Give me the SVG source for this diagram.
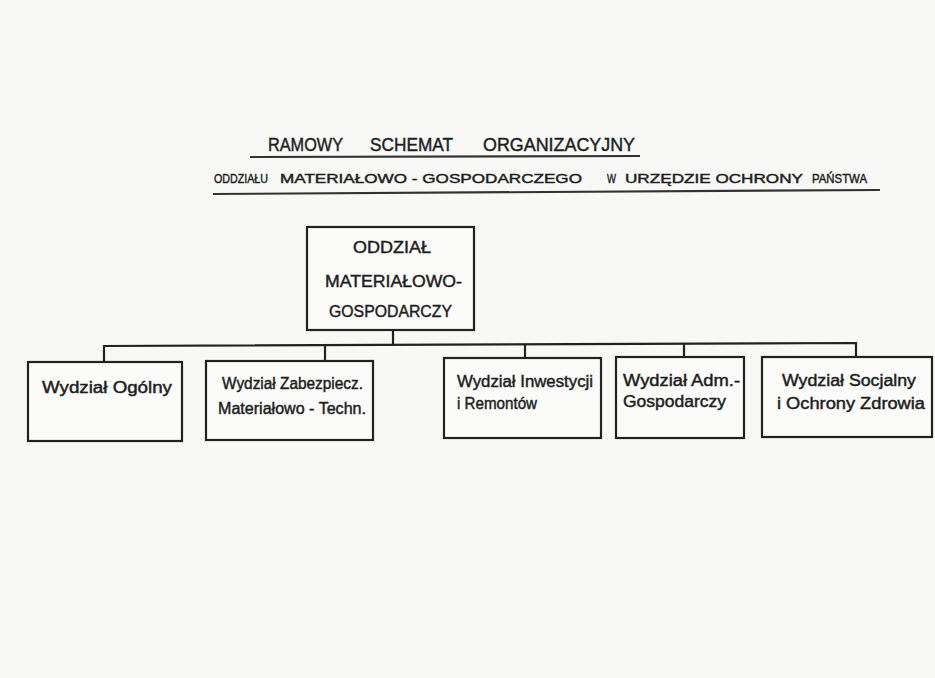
<svg xmlns="http://www.w3.org/2000/svg" width="935" height="678" viewBox="0 0 935 678">
<style>
.bg{fill:#f8f8f6}
.box{fill:#fbfbfa;stroke:#222;stroke-width:2.2}
.ln{fill:none;stroke:#222;stroke-width:2.2}
.ul{fill:none;stroke:#333;stroke-width:2.2}
text{font-family:"Liberation Sans","DejaVu Sans",sans-serif;fill:#1e1e1e;stroke:#1e1e1e;stroke-width:0.45}
.t{font-size:19px}
.s{font-size:13px}
.h{font-size:17px}
.b{font-size:16px}
</style>
<rect class="bg" x="0" y="0" width="935" height="678"/>

<g id="title">
<text class="t" x="268" y="151" textLength="75" lengthAdjust="spacingAndGlyphs">RAMOWY</text>
<text class="t" x="370" y="151" textLength="83" lengthAdjust="spacingAndGlyphs">SCHEMAT</text>
<text class="t" x="483" y="151" textLength="152" lengthAdjust="spacingAndGlyphs">ORGANIZACYJNY</text>
<line class="ul" x1="250" y1="157" x2="640" y2="156"/>
<text class="s" x="214" y="183" textLength="54" lengthAdjust="spacingAndGlyphs">ODDZIAŁU</text>
<text class="s" x="280" y="183" textLength="302" lengthAdjust="spacingAndGlyphs">MATERIAŁOWO - GOSPODARCZEGO</text>
<text class="s" x="607" y="183" textLength="9" lengthAdjust="spacingAndGlyphs">W</text>
<text class="s" x="625" y="183" textLength="178" lengthAdjust="spacingAndGlyphs">URZĘDZIE OCHRONY</text>
<text class="s" x="812" y="183" textLength="55" lengthAdjust="spacingAndGlyphs">PAŃSTWA</text>
<line class="ul" x1="213" y1="194" x2="880" y2="190"/>
</g>

<g id="connectors">
<line class="ln" x1="393" y1="330" x2="393" y2="345"/>
<polyline class="ln" points="104,362 104,346 856,343 856,357"/>
<line class="ln" x1="325" y1="345.5" x2="325" y2="361"/>
<line class="ln" x1="525" y1="344.5" x2="525" y2="358"/>
<line class="ln" x1="684" y1="344" x2="684" y2="357"/>
</g>

<g id="node-root">
<rect class="box" x="307" y="227" width="167" height="103"/>
<text class="h" x="353" y="253" textLength="78" lengthAdjust="spacingAndGlyphs">ODDZIAŁ</text>
<text class="h" x="325" y="287" textLength="137" lengthAdjust="spacingAndGlyphs">MATERIAŁOWO-</text>
<text class="h" x="329" y="317" textLength="123" lengthAdjust="spacingAndGlyphs">GOSPODARCZY</text>
</g>

<g id="node-ogolny">
<rect class="box" x="28" y="362" width="154" height="79"/>
<text class="b" x="42" y="393" textLength="130" lengthAdjust="spacingAndGlyphs">Wydział Ogólny</text>
</g>

<g id="node-zabezpiecz">
<rect class="box" x="206" y="361" width="167" height="79"/>
<text class="b" x="222" y="389" textLength="141" lengthAdjust="spacingAndGlyphs">Wydział Zabezpiecz.</text>
<text class="b" x="218" y="414" textLength="148" lengthAdjust="spacingAndGlyphs">Materiałowo - Techn.</text>
</g>

<g id="node-inwestycji">
<rect class="box" x="444" y="358" width="157" height="80"/>
<text class="b" x="457" y="387" textLength="136" lengthAdjust="spacingAndGlyphs">Wydział Inwestycji</text>
<text class="b" x="457" y="409" textLength="80" lengthAdjust="spacingAndGlyphs">i Remontów</text>
</g>

<g id="node-adm">
<rect class="box" x="616" y="357" width="128" height="81"/>
<text class="b" x="623" y="386" textLength="117" lengthAdjust="spacingAndGlyphs">Wydział Adm.-</text>
<text class="b" x="623" y="407" textLength="103" lengthAdjust="spacingAndGlyphs">Gospodarczy</text>
</g>

<g id="node-socjalny">
<rect class="box" x="762" y="357" width="170" height="80"/>
<text class="b" x="782" y="386" textLength="134" lengthAdjust="spacingAndGlyphs">Wydział Socjalny</text>
<text class="b" x="777" y="409" textLength="148" lengthAdjust="spacingAndGlyphs">i Ochrony Zdrowia</text>
</g>
</svg>
